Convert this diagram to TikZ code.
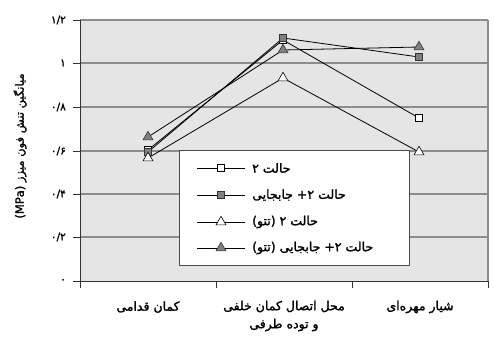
\documentclass[tikz,border=0pt]{standalone}
\usepackage{fontspec}
\usetikzlibrary{shapes.geometric,backgrounds}
\newfontfamily\fa[Script=Arabic,FakeBold=1.6]{DejaVu Sans}
\TeXXeTstate=1
\tikzset{
  gridline/.style={draw=black!45, line width=1.1pt},
  axisline/.style={draw=black!80, line width=0.9pt},
  serline/.style={draw=black, line width=0.8pt},
  sqw/.style={rectangle, draw=black, fill=white, line width=0.6pt, minimum size=7.5pt, inner sep=0pt},
  sqg/.style={rectangle, draw=black!80, fill=black!50, line width=0.6pt, minimum size=7.5pt, inner sep=0pt},
  triw/.style={regular polygon, regular polygon sides=3, draw=black, fill=white, line width=0.6pt, minimum size=11.5pt, inner sep=0pt},
  trig/.style={regular polygon, regular polygon sides=3, draw=black!80, fill=black!50, line width=0.6pt, minimum size=11.5pt, inner sep=0pt},
  ylab/.style={anchor=east, font=\fa\fontsize{10.5}{11}\selectfont, inner sep=0pt},
  xlab/.style={font=\fa\fontsize{12.5}{18}\selectfont, inner sep=0pt, align=center},
  leglab/.style={anchor=west, font=\fa\fontsize{12.5}{13}\selectfont, inner sep=0pt}
}
\begin{document}
\begin{tikzpicture}[x=1pt,y=-1pt]
\useasboundingbox (0,0) rectangle (494,338);
% markers (data points)
\node[sqw] (a1) at (148,150) {};
\node[sqw] (a2) at (283,40) {};
\node[sqw] (a3) at (419,118) {};
\node[sqg] (b1) at (148,152) {};
\node[sqg] (b2) at (283,38) {};
\node[sqg] (b3) at (419,57) {};
\node[triw] (c1) at (148,158) {};
\node[triw] (c2) at (283,78) {};
\node[triw] (c3) at (419,152) {};
\node[trig] (d1) at (148,137) {};
\node[trig] (d2) at (283,50) {};
\node[trig] (d3) at (419,47) {};
\begin{scope}[on background layer]
  \fill[black!10] (80,20) rectangle (488,281);
  \foreach \yy in {20,63,107,151,194,237} \draw[gridline] (80,\yy) -- (488,\yy);
  \draw[gridline] (488,20) -- (488,281);
  \draw[serline] (a1.center) -- (a2.center) -- (a3.center);
  \draw[serline] (b1.center) -- (b2.center) -- (b3.center);
  \draw[serline] (c1.center) -- (c2.center) -- (c3.center);
  \draw[serline] (d1.center) -- (d2.center) -- (d3.center);
\end{scope}
% axes
\coordinate (o) at (80,281);
\coordinate (ytop) at (80,20);
\coordinate (xend) at (488,281);
\draw[axisline] (80,288) -- (ytop);
\draw[axisline] (o) -- (xend);
\foreach \yy in {20,63,107,151,194,237,281} \draw[axisline] (73,\yy) -- (80,\yy);
\foreach \xx in {80,216,352,488} \draw[axisline] (\xx,281) -- (\xx,288);
% y tick labels
\node[ylab] (t0) at (66,281) {۰};
\node[ylab] (t1) at (66,237) {۰/۲};
\node[ylab] (t2) at (66,194) {۰/۴};
\node[ylab] (t3) at (66,151) {۰/۶};
\node[ylab] (t4) at (66,107) {۰/۸};
\node[ylab] (t5) at (66,63) {۱};
\node[ylab] (t6) at (66,20) {۱/۲};
% y axis title
\node[rotate=90, font=\fa\fontsize{11.5}{12}\selectfont, inner sep=0pt] (ytitle) at (20,146) {\beginR میانگین تنش فون میزز (\beginL MPa\endL)\endR};
% x labels
\node[xlab] (x1) at (148,307) {\beginR کمان قدامی\endR};
\node[xlab] (x2) at (284,316) {\beginR محل اتصال کمان خلفی\endR\\\beginR و توده طرفی\endR};
\node[xlab] (x3) at (420,307) {\beginR شیار مهره‌ای\endR};
% legend
\node[draw=black!70, fill=white, line width=0.7pt, minimum width=230pt, minimum height=115pt, anchor=north west, inner sep=0pt] (leg) at (179,150) {};
\foreach \yy/\st/\txt [count=\i] in {168/sqw/{حالت ۲},195/sqg/{حالت ۲+ جابجایی},222/triw/{حالت ۲ (تتو)},248/trig/{حالت ۲+ جابجایی (تتو)}} {
  \coordinate (l\i a) at (197,\yy);
  \coordinate (l\i b) at (245,\yy);
  \draw[serline] (l\i a) -- (l\i b);
  \node[\st] (lm\i) at (221,\yy) {};
  \node[leglab] (lt\i) at (252,\yy) {\beginR\txt\endR};
}
\end{tikzpicture}
\end{document}
